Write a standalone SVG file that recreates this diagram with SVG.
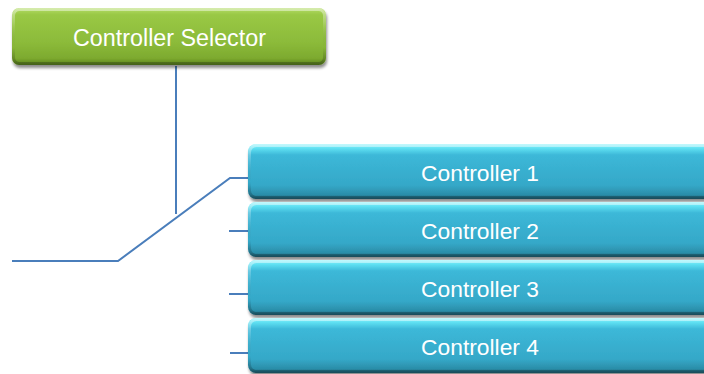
<svg xmlns="http://www.w3.org/2000/svg" width="704" height="374" viewBox="0 0 704 374">
<defs>
<linearGradient id="gG" x1="0" y1="0" x2="0" y2="1">
<stop offset="0" stop-color="#b4dc68"/>
<stop offset="0.12" stop-color="#99c845"/>
<stop offset="0.6" stop-color="#8cbb3a"/>
<stop offset="0.88" stop-color="#7daa2f"/>
<stop offset="1" stop-color="#5a8120"/>
</linearGradient>
<linearGradient id="gB" x1="0" y1="0" x2="0" y2="1">
<stop offset="0" stop-color="#8ff4fb"/>
<stop offset="0.08" stop-color="#5fe0f2"/>
<stop offset="0.2" stop-color="#3cb8d8"/>
<stop offset="0.75" stop-color="#35a8c8"/>
<stop offset="0.92" stop-color="#2b8ea9"/>
<stop offset="1" stop-color="#1f6275"/>
</linearGradient>
<linearGradient id="bev" x1="0" y1="0" x2="0" y2="1">
<stop offset="0" stop-color="#ffffff" stop-opacity="0.45"/>
<stop offset="0.3" stop-color="#ffffff" stop-opacity="0.12"/>
<stop offset="0.7" stop-color="#000000" stop-opacity="0"/>
<stop offset="1" stop-color="#000000" stop-opacity="0.25"/>
</linearGradient>
<filter id="sh" x="-5%" y="-10%" width="110%" height="130%">
<feGaussianBlur in="SourceAlpha" stdDeviation="1.8"/>
<feOffset dx="1" dy="2.5"/>
<feComponentTransfer><feFuncA type="linear" slope="0.45"/></feComponentTransfer>
<feMerge><feMergeNode/><feMergeNode in="SourceGraphic"/></feMerge>
</filter>
</defs>
<style>
.t{font-family:"Liberation Sans",Arial,sans-serif;font-size:22.8px;fill:#ffffff;text-anchor:middle}
.c{stroke:#4a7ebb;stroke-width:2;fill:none}
.b{fill:url(#gB);filter:url(#sh)}
.v{fill:none;stroke:url(#bev);stroke-width:3}
</style>
<rect x="0" y="0" width="704" height="374" fill="#ffffff"/>
<g id="connectors">
<line class="c" x1="176" y1="66" x2="176" y2="214"/>
<polyline class="c" points="12,261 118,261 230,178 249,178"/>
<line class="c" x1="229" y1="231" x2="249" y2="231"/>
<line class="c" x1="229" y1="294" x2="249" y2="294"/>
<line class="c" x1="230" y1="353" x2="249" y2="353"/>
</g>
<g id="selector">
<rect x="12" y="8" width="314" height="57" rx="7" fill="url(#gG)" filter="url(#sh)"/>
<rect class="v" x="13.5" y="9.5" width="311" height="54" rx="6"/>
<text class="t" x="169.5" y="46" style="font-size:23.3px">Controller Selector</text>
</g>
<g id="controller1">
<rect class="b" x="248" y="144" width="470" height="55" rx="8"/>
<rect class="v" x="249.5" y="145.5" width="467" height="52" rx="7"/>
<text class="t" x="480" y="181">Controller 1</text>
</g>
<g id="controller2">
<rect class="b" x="248" y="202" width="470" height="55" rx="8"/>
<rect class="v" x="249.5" y="203.5" width="467" height="52" rx="7"/>
<text class="t" x="480" y="239">Controller 2</text>
</g>
<g id="controller3">
<rect class="b" x="248" y="260" width="470" height="55" rx="8"/>
<rect class="v" x="249.5" y="261.5" width="467" height="52" rx="7"/>
<text class="t" x="480" y="297">Controller 3</text>
</g>
<g id="controller4">
<rect class="b" x="248" y="318" width="470" height="55" rx="8"/>
<rect class="v" x="249.5" y="319.5" width="467" height="52" rx="7"/>
<text class="t" x="480" y="355">Controller 4</text>
</g>
</svg>
